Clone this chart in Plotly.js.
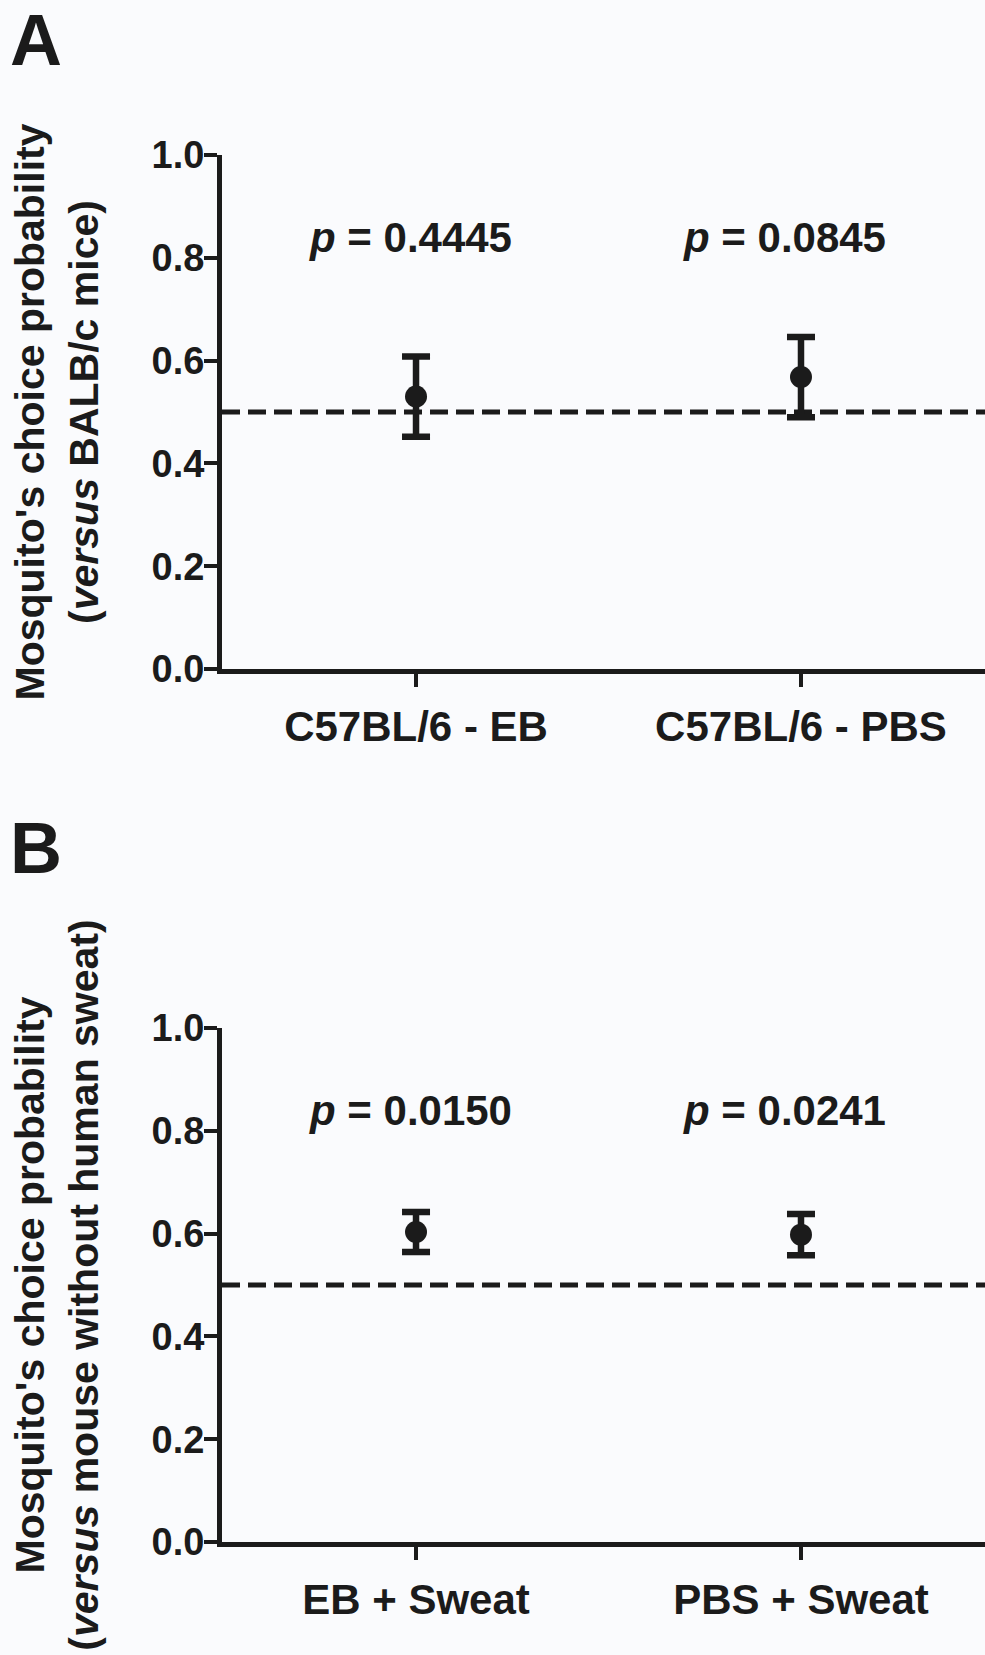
<!DOCTYPE html>
<html><head><meta charset="utf-8">
<script src="https://cdn.plot.ly/plotly-3.0.1.min.js"></script>
<style>html,body{margin:0;padding:0;background:#fafbfd;overflow:hidden}#chart{width:985px;height:1655px}</style>
</head><body><div id="chart"></div>
<script>
// ---- data ----
const categoriesA = ['C57BL/6 - EB', 'C57BL/6 - PBS'];
const meanA = [0.530, 0.568];
const errA = [0.078, 0.078];
const pValuesA = ['0.4445', '0.0845'];

const categoriesB = ['EB + Sweat', 'PBS + Sweat'];
const meanB = [0.603, 0.598];
const errB = [0.039, 0.040];
const pValuesB = ['0.0150', '0.0241'];

const chanceLevel = 0.5;
const yTickVals = [0, 0.2, 0.4, 0.6, 0.8, 1.0];
const yTickText = ['0.0', '0.2', '0.4', '0.6', '0.8', '1.0'];
const pLabelLevel = 0.84;
const yTitleA = "Mosquito's choice probability<br>(<i>versus</i> BALB/c mice)";
const yTitleB = "Mosquito's choice probability<br>(<i>versus</i> mouse without human sweat)";
const panelLetters = ['A', 'B'];

// ---- styling / layout ----
const W = 985, H = 1655;
const INK = '#1b1b1b';
const FONT = 'Liberation Sans, Arial, Helvetica, sans-serif';
const left = 222;
const panels = [{top: 155, bottom: 669}, {top: 1028, bottom: 1542}];
const xRange = [-0.504, 1.478];
const pShift = [-6, -16];

function xAxis(anchor, cats) {
  return {
    domain: [left / W, 1], anchor: anchor, type: 'category',
    categoryorder: 'array', categoryarray: cats,
    range: xRange, showgrid: false, zeroline: false,
    showline: true, linewidth: 5, linecolor: INK,
    ticks: 'outside', ticklen: 13, tickwidth: 4, tickcolor: INK,
    ticklabelstandoff: 4,
    tickfont: {family: FONT, size: 42, color: INK, weight: 'bold'},
    fixedrange: true
  };
}
function yAxis(anchor, p, title) {
  return {
    domain: [1 - p.bottom / H, 1 - p.top / H], anchor: anchor,
    range: [0, 1], showgrid: false, zeroline: false,
    showline: true, linewidth: 5, linecolor: INK,
    ticks: 'outside', ticklen: 13, tickwidth: 4, tickcolor: INK,
    ticklabelstandoff: -8,
    tickvals: yTickVals, ticktext: yTickText,
    tickfont: {family: FONT, size: 38, color: INK, weight: 'bold'},
    title: {text: title, standoff: 42, font: {family: FONT, size: 41, color: INK, weight: 'bold'}},
    fixedrange: true
  };
}
function trace(cats, means, errs, xa, ya) {
  return {
    type: 'scatter', mode: 'markers', x: cats, y: means, xaxis: xa, yaxis: ya,
    marker: {size: 22, color: INK},
    error_y: {type: 'data', array: errs, visible: true, thickness: 6.5, width: 14, color: INK},
    hoverinfo: 'skip', showlegend: false
  };
}

const data = [
  trace(categoriesA, meanA, errA, 'x', 'y'),
  trace(categoriesB, meanB, errB, 'x2', 'y2')
];

const annotations = [];
[[categoriesA, pValuesA, 'x', 'y'], [categoriesB, pValuesB, 'x2', 'y2']].forEach(function (s) {
  s[0].forEach(function (c, i) {
    annotations.push({
      xref: s[2], yref: s[3], x: c, y: pLabelLevel, xshift: pShift[i],
      text: '<i>p</i> = ' + s[1][i], showarrow: false,
      font: {family: FONT, size: 42, color: INK, weight: 'bold'}
    });
  });
});
const letterY = [40, 848];
panelLetters.forEach(function (L, i) {
  annotations.push({
    xref: 'paper', yref: 'paper', x: 8 / W, y: 1 - letterY[i] / H,
    xanchor: 'left', yanchor: 'middle', text: L, showarrow: false,
    font: {family: FONT, size: 72, color: INK, weight: 'bold'}
  });
});

const shapes = [['x', 'y'], ['x2', 'y2']].map(function (r) {
  return {
    type: 'line', xref: r[0] + ' domain', yref: r[1], x0: 0, x1: 1,
    y0: chanceLevel, y1: chanceLevel, layer: 'below',
    line: {color: INK, width: 5, dash: '18px,8px'}
  };
});

const layout = {
  width: W, height: H,
  margin: {l: 0, r: 0, t: 0, b: 0},
  paper_bgcolor: '#fafbfd', plot_bgcolor: '#fafbfd',
  font: {family: FONT, color: INK},
  showlegend: false,
  xaxis: xAxis('y', categoriesA),
  yaxis: yAxis('x', panels[0], yTitleA),
  xaxis2: xAxis('y2', categoriesB),
  yaxis2: yAxis('x2', panels[1], yTitleB),
  annotations: annotations,
  shapes: shapes
};

Plotly.newPlot('chart', data, layout, {displayModeBar: false, staticPlot: true});
</script>
</body></html>
